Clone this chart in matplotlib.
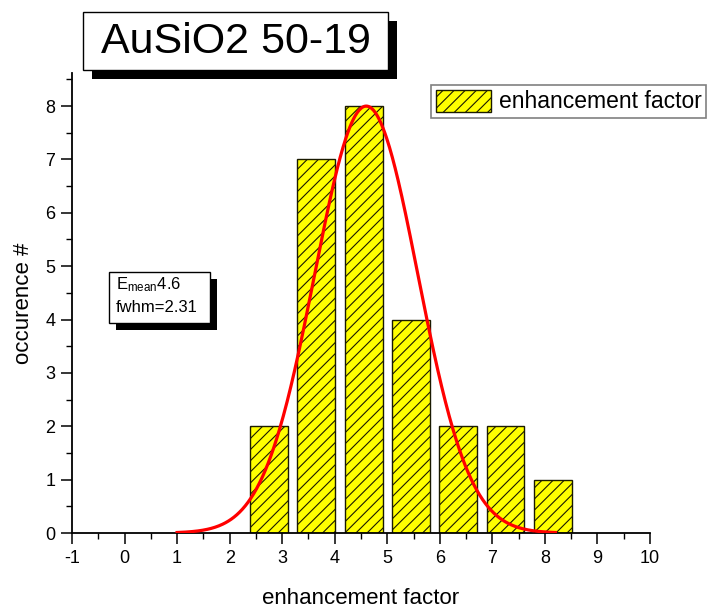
import numpy as np
import matplotlib
matplotlib.use("Agg")
import matplotlib.pyplot as plt
from matplotlib.patches import Rectangle
from matplotlib.ticker import MultipleLocator

plt.rcParams['font.family'] = ['Liberation Sans', 'DejaVu Sans']
plt.rcParams['mathtext.fontset'] = 'custom'
plt.rcParams['mathtext.rm'] = 'Liberation Sans'
plt.rcParams['mathtext.it'] = 'Liberation Sans:italic'
plt.rcParams['axes.unicode_minus'] = False
plt.rcParams['hatch.linewidth'] = 0.8
plt.rcParams['hatch.color'] = 'black'

# histogram of enhancement factors
bin_centers = [2.75, 3.65, 4.55, 5.45, 6.35, 7.25, 8.15]
counts = [2, 7, 8, 4, 2, 2, 1]
bar_width = 0.72

# gaussian fit parameters (as printed on the chart)
fit_mean = 4.6
fit_fwhm = 2.31
fit_amp = 8.0
fit_range = (1.0, 8.2)

W, H = 722, 608


def fx(px):
    return px / W


def fy(py):
    return 1 - py / H


def shadow_box(x0, y0, x1, y1, off=8):
    """white box with black drop shadow, given in pixel coords (top-left origin)"""
    fig.add_artist(Rectangle((fx(x0 + off), fy(y1 + off)), fx(x1 - x0), (y1 - y0) / H,
                             transform=fig.transFigure, facecolor='black', edgecolor='none', zorder=5))
    fig.add_artist(Rectangle((fx(x0), fy(y1)), fx(x1 - x0), (y1 - y0) / H,
                             transform=fig.transFigure, facecolor='white', edgecolor='black',
                             lw=1.0, zorder=6))


fig = plt.figure(figsize=(W / 100, H / 100), dpi=100)
ax = fig.add_axes([fx(72), fy(533), fx(650 - 72), (533 - 73) / H])

bars = ax.bar(bin_centers, counts, width=bar_width, facecolor='#FFFF00',
              edgecolor='#1a1a00', linewidth=1.0, hatch='///', label='enhancement factor', zorder=2)

xf = np.linspace(fit_range[0], fit_range[1], 400)
yf = fit_amp * np.exp(-4 * np.log(2) * (xf - fit_mean) ** 2 / fit_fwhm ** 2)
ax.plot(xf, yf, color='red', lw=2.3, zorder=3)

ax.set_xlim(-1, 10)
ax.set_ylim(0, 8.62)
ax.xaxis.set_major_locator(MultipleLocator(1))
ax.xaxis.set_minor_locator(MultipleLocator(0.5))
ax.yaxis.set_major_locator(MultipleLocator(1))
ax.yaxis.set_minor_locator(MultipleLocator(0.5))
ax.spines['top'].set_visible(False)
ax.spines['right'].set_visible(False)
for s in ('left', 'bottom'):
    ax.spines[s].set_linewidth(1.3)
ax.tick_params(which='major', direction='out', length=8, width=1.1, labelsize=13, pad=4)
ax.tick_params(which='minor', direction='out', length=4.5, width=1.0)
ax.set_xlabel('enhancement factor', fontsize=16, labelpad=15)
ax.set_ylabel('occurence #', fontsize=16, labelpad=8)

leg = ax.legend(handles=[bars], loc='upper left', bbox_to_anchor=(fx(431), fy(85)),
                bbox_transform=fig.transFigure, borderaxespad=0, fancybox=False,
                fontsize=16.5, handlelength=2.4, handleheight=1.1, borderpad=0.2,
                handletextpad=0.35, framealpha=1)
leg.get_frame().set_edgecolor('#808080')
leg.get_frame().set_linewidth(1.2)

# title box
shadow_box(83, 12, 388, 70, off=9)
fig.text(fx(236), fy(42), 'AuSiO2 50-19', fontsize=31, ha='center', va='center', zorder=7)

# fit result box
shadow_box(109, 272, 210, 323, off=7)
fig.text(fx(116), fy(285), r'E$_{\mathrm{mean}}$4.6', fontsize=12, ha='left', va='center', zorder=7)
fig.text(fx(116), fy(307), 'fwhm=2.31', fontsize=12, ha='left', va='center', zorder=7)

fig.savefig('out.png', dpi=100)
